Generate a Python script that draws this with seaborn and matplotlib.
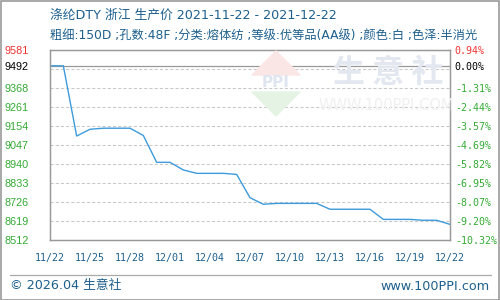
import numpy as np
import pandas as pd
import matplotlib
matplotlib.use("Agg")
import matplotlib.pyplot as plt
import seaborn as sns
from matplotlib.patches import Polygon, Rectangle
from matplotlib.lines import Line2D

# ---------------- data ----------------
dates = pd.date_range("2021-11-22", "2021-12-22", freq="D")
prices = [9492, 9492, 9097, 9135, 9141, 9141, 9141, 9100, 8949, 8949,
          8906, 8887, 8887, 8887, 8881, 8750, 8713, 8718, 8718, 8718,
          8718, 8685, 8685, 8685, 8685, 8628, 8628, 8628, 8623, 8623, 8600]
base_price = 9492
y_min, y_max = 8512, 9581
left_tick_values = [9581, 9492, 9368, 9261, 9154, 9047, 8940, 8833, 8726, 8619, 8512]
left_tick_labels = ["9581", "9492", "9368", "9261", "9154", "9047", "8940",
                    "8833", "8726", "8619", "8512"]
right_tick_labels = ["0.94%", "0.00%", "-1.31%", "-2.44%", "-3.57%", "-4.69%",
                     "-5.82%", "-6.95%", "-8.07%", "-9.20%", "-10.32%"]
x_tick_labels = ["11/22", "11/25", "11/28", "12/01", "12/04", "12/07",
                 "12/10", "12/13", "12/16", "12/19", "12/22"]
title_line1 = "涤纶DTY 浙江 生产价 2021-11-22 - 2021-12-22"
title_line2 = "粗细:150D ;孔数:48F ;分类:熔体纺 ;等级:优等品(AA级) ;颜色:白 ;色泽:半消光"
footer_left = "© 2026.04 生意社"
footer_right = "www.100PPI.com"

df = pd.DataFrame({"date": dates, "price": prices})

# ---------------- style ----------------
sns.set_theme(style="white")
plt.rcParams["font.family"] = ["DejaVu Sans", "Noto Sans CJK SC"]

RED = "#ee3333"
GREEN = "#33aa33"
BLUE_TXT = "#1d5f8d"
LINE = "#3d9bdb"
GRID = "#c8c8c8"
FRAME = "#999999"

fig = plt.figure(figsize=(5, 3), dpi=100)
fig.patch.set_facecolor("white")
ax = fig.add_axes([50 / 500, 60 / 300, 400 / 500, 190 / 300])
ax.set_facecolor("none")

# watermark (decoration)
fig.patches.append(Polygon([[252 / 500, 1 - 75 / 300], [300 / 500, 1 - 75 / 300],
                            [276 / 500, 1 - 51 / 300]], closed=True,
                           transform=fig.transFigure, color="#fbe6e6", zorder=0))
fig.patches.append(Polygon([[252 / 500, 1 - 92 / 300], [300 / 500, 1 - 92 / 300],
                            [276 / 500, 1 - 116 / 300]], closed=True,
                           transform=fig.transFigure, color="#e4f3e4", zorder=0))
fig.text(276 / 500, 1 - 83 / 300, "PPI", ha="center", va="center", fontsize=11,
         color="#dfe5ef", fontweight="bold", zorder=0)
fig.text(388 / 500, 1 - 73 / 300, "生 意 社", ha="center", va="center", fontsize=23,
         color="#e2e7f0", family=["Noto Sans CJK SC"], fontweight="bold", zorder=0)
fig.text(386 / 500, 1 - 105 / 300, "WWW.100PPI.COM", ha="center", va="center",
         fontsize=10.5, color="#f0f0f0", zorder=0)

# grid lines (minor ticks at evenly spaced levels)
grid_y = np.linspace(y_min, y_max, 11)
ax.set_yticks(grid_y, minor=True)
ax.set_xticks(dates[::3], minor=True)
ax.grid(which="minor", color=GRID, linestyle=(0, (3, 2)), linewidth=0.75)
ax.grid(which="major", visible=False)

# reference line at base price
ax.axhline(base_price, color=FRAME, linewidth=0.9, zorder=2)

sns.lineplot(data=df, x="date", y="price", ax=ax, color=LINE, linewidth=1.0,
             zorder=3)

ax.set_xlim(dates[0], dates[-1])
ax.set_ylim(y_min, y_max)
ax.set_xlabel("")
ax.set_ylabel("")

# x ticks
ax.set_xticks(dates[::3])
ax.set_xticklabels(x_tick_labels, family="DejaVu Sans Mono", fontsize=7.2,
                   color=BLUE_TXT)
ax.tick_params(axis="x", which="both", length=0, pad=9)

# left y ticks
ax.set_yticks(left_tick_values)
ax.set_yticklabels(left_tick_labels, family="Liberation Sans", fontsize=7.8)
ax.tick_params(axis="y", which="both", length=0, pad=32.5)
for i, lab in enumerate(ax.get_yticklabels()):
    lab.set_ha("left")
    lab.set_color(RED if i == 0 else ("black" if i == 1 else GREEN))

# right y ticks
ax2 = ax.twinx()
ax2.set_ylim(y_min, y_max)
ax2.set_yticks(left_tick_values)
ax2.set_yticklabels(right_tick_labels, family="DejaVu Sans Mono", fontsize=7.2)
ax2.tick_params(axis="y", length=0, pad=3.5)
for i, lab in enumerate(ax2.get_yticklabels()):
    lab.set_color(RED if i == 0 else ("black" if i == 1 else GREEN))
ax2.set_yticks([], minor=True)

for a in (ax, ax2):
    for side in ("left", "right", "bottom", "top"):
        a.spines[side].set_color(FRAME)
        a.spines[side].set_linewidth(0.9)
        a.spines[side].set_visible(True)
ax2.grid(False)

# titles
fig.text(50 / 500, 1 - 15 / 300, title_line1, fontsize=9.2, color=BLUE_TXT,
         ha="left", va="center")
fig.text(50 / 500, 1 - 35 / 300, title_line2, fontsize=8.8, color=BLUE_TXT,
         ha="left", va="center")

# footer
fig.add_artist(Line2D([10 / 500, 491 / 500], [1 - 275 / 300, 1 - 275 / 300],
                      transform=fig.transFigure, color="#aaaaaa", linewidth=0.9))
fig.text(10 / 500, 1 - 286 / 300, footer_left, fontsize=9.2, color=BLUE_TXT,
         ha="left", va="center")
fig.text(490 / 500, 1 - 286 / 300, footer_right, fontsize=9.2, color=BLUE_TXT,
         ha="right", va="center")

# outer border
fig.patches.append(Rectangle((0.5 / 500, 0.5 / 300), 498.5 / 500, 298.5 / 300,
                             transform=fig.transFigure, fill=False,
                             edgecolor=FRAME, linewidth=1.2))

fig.savefig("out.png", dpi=100)
